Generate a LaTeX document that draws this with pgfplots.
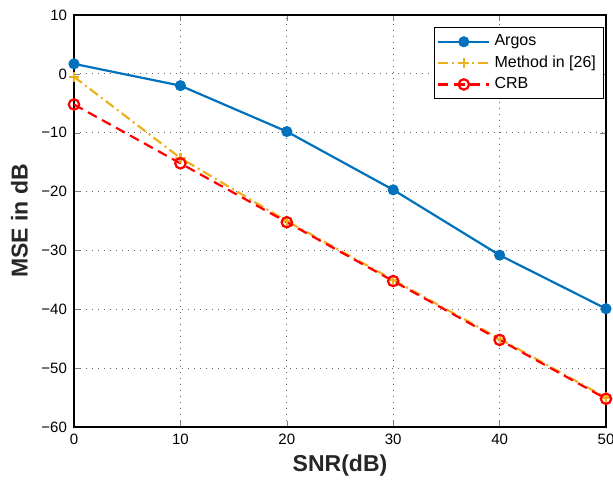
\documentclass[border=0pt]{standalone}
\usepackage{pgfplots}
\pgfplotsset{compat=1.18}
\usepackage{fontspec}
\setmainfont{Liberation Sans}
\definecolor{mblue}{rgb}{0,0.447,0.741}
\definecolor{morange}{rgb}{0.929,0.694,0.125}
\begin{document}
\begin{tikzpicture}
\useasboundingbox (-37pt,-28.5pt) rectangle (269.5pt,213.5pt);
\begin{axis}[
  scale only axis,
  width=266pt, height=206pt,
  xmin=0, xmax=50, ymin=-60, ymax=10,
  xtick={0,10,...,50},
  ytick={-60,-50,...,10},
  yticklabels={−60,−50,−40,−30,−20,−10,0,10},
  /pgf/number format/assume math mode=true,
  tick label style={font=\fontsize{7.5pt}{8pt}\selectfont},
  tick align=inside,
  major tick length=3pt,
  xmajorgrids, ymajorgrids,
  grid style={black!60, dash pattern=on 0.5pt off 2.5pt, line width=0.4pt},
  axis line style={line width=0.6pt},
  xlabel={SNR(dB)},
  ylabel={MSE in dB},
  label style={font=\fontsize{11.5pt}{13pt}\selectfont\bfseries, text=black!85},
  xlabel style={yshift=2pt},
  ylabel style={yshift=0pt},
  legend style={at={(0.995,0.97)}, anchor=north east, font=\fontsize{8pt}{9.5pt}\selectfont,
    draw=black, line width=0.4pt, inner sep=1.5pt, row sep=-0.5pt},
  legend cell align=left,
  legend image code/.code={\draw[mark repeat=2,mark phase=2] plot coordinates {(0cm,0cm) (0.45cm,0cm) (0.9cm,0cm)};},
]
\addplot[color=mblue, line width=1.1pt, mark=*, mark size=2.2pt, mark options={solid, fill=mblue}]
  coordinates {(0,1.7) (10,-2.0) (20,-9.8) (30,-19.7) (40,-30.8) (50,-39.9)};
\addlegendentry{Argos}
\addplot[color=morange, line width=1.1pt, dash pattern=on 5pt off 2pt on 1pt off 2pt, mark=+, mark size=2.6pt, mark options={solid, line width=1.1pt}]
  coordinates {(0,-0.5) (10,-14.3) (20,-25.0) (30,-35.0) (40,-45.0) (50,-55.0)};
\addlegendentry{Method in [26]}
\addplot[color=red, line width=1.1pt, dash pattern=on 5pt off 3pt, mark=o, mark size=2.6pt, mark options={solid, line width=1.1pt}]
  coordinates {(0,-5.2) (10,-15.2) (20,-25.2) (30,-35.2) (40,-45.2) (50,-55.2)};
\addlegendentry{CRB}
\end{axis}
\end{tikzpicture}
\end{document}
